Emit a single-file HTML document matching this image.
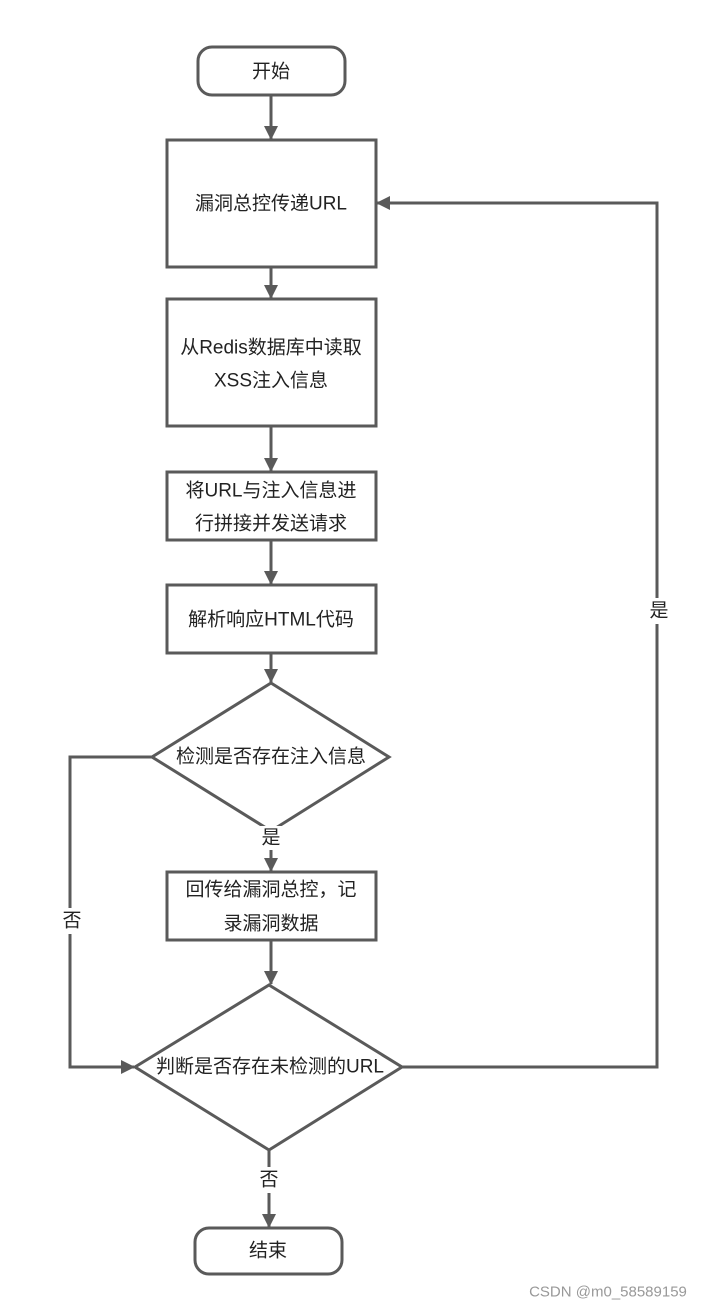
<!DOCTYPE html>
<html><head><meta charset="utf-8"><style>
html,body{margin:0;padding:0;background:#fff;}
svg{display:block;}
text{font-family:"Liberation Sans","Noto Sans CJK SC",sans-serif;font-size:19px;fill:#222;}
</style></head><body>
<svg width="711" height="1309" viewBox="0 0 711 1309" xmlns="http://www.w3.org/2000/svg">
<defs>
<marker id="a" markerWidth="10" markerHeight="10" refX="9" refY="5" orient="auto" markerUnits="userSpaceOnUse">
<path d="M0,0 L10,5 L0,10 z" fill="#5a5a5a" transform="scale(1)"/>
</marker>
<marker id="b" markerWidth="14" markerHeight="14" refX="13" refY="7" orient="auto" markerUnits="userSpaceOnUse">
<path d="M0,0 L14,7 L0,14 z" fill="#5a5a5a"/>
</marker>
</defs>
<g fill="#fff" stroke="#5a5a5a" stroke-width="3">
<rect x="198" y="47" width="147" height="48" rx="14"/>
<rect x="167" y="140" width="209" height="127"/>
<rect x="167" y="299" width="209" height="127"/>
<rect x="167" y="472" width="209" height="68"/>
<rect x="167" y="585" width="209" height="68"/>
<polygon points="271,683 389,757 271,831 152,757"/>
<rect x="167" y="872" width="209" height="68"/>
<polygon points="269,985 402,1067 269,1150 135,1067"/>
<rect x="195" y="1228" width="147" height="46" rx="14"/>
</g>
<g fill="none" stroke="#5a5a5a" stroke-width="3" marker-end="url(#b)">
<line x1="271" y1="95" x2="271" y2="139"/>
<line x1="271" y1="267" x2="271" y2="298"/>
<line x1="271" y1="426" x2="271" y2="471"/>
<line x1="271" y1="540" x2="271" y2="584"/>
<line x1="271" y1="653" x2="271" y2="682"/>
<line x1="271" y1="831" x2="271" y2="871"/>
<line x1="271" y1="940" x2="271" y2="984"/>
<line x1="269" y1="1150" x2="269" y2="1227"/>
<polyline points="152,757 70,757 70,1067 134,1067"/>
<polyline points="402,1067 657,1067 657,203 377,203"/>
</g>
<rect x="258" y="826" width="26" height="24" fill="#fff"/>
<rect x="256" y="1167" width="26" height="26" fill="#fff"/>
<rect x="58" y="908" width="26" height="26" fill="#fff"/>
<rect x="645" y="598" width="26" height="26" fill="#fff"/>
<g text-anchor="middle" dominant-baseline="central">
<text x="271" y="72">开始</text>
<text x="271" y="204">漏洞总控传递URL</text>
<text x="271" y="348">从Redis数据库中读取</text>
<text x="271" y="381">XSS注入信息</text>
<text x="271" y="491">将URL与注入信息进</text>
<text x="271" y="524">行拼接并发送请求</text>
<text x="271" y="620">解析响应HTML代码</text>
<text x="271" y="757">检测是否存在注入信息</text>
<text x="271" y="838">是</text>
<text x="271" y="890">回传给漏洞总控，记</text>
<text x="271" y="924">录漏洞数据</text>
<text x="270" y="1067">判断是否存在未检测的URL</text>
<text x="269" y="1180">否</text>
<text x="268" y="1251">结束</text>
<text x="72" y="921">否</text>
<text x="659" y="611">是</text>
<text x="608" y="1292" style="font-size:15px;fill:#999">CSDN @m0_58589159</text>
</g>
</svg>
</body></html>
